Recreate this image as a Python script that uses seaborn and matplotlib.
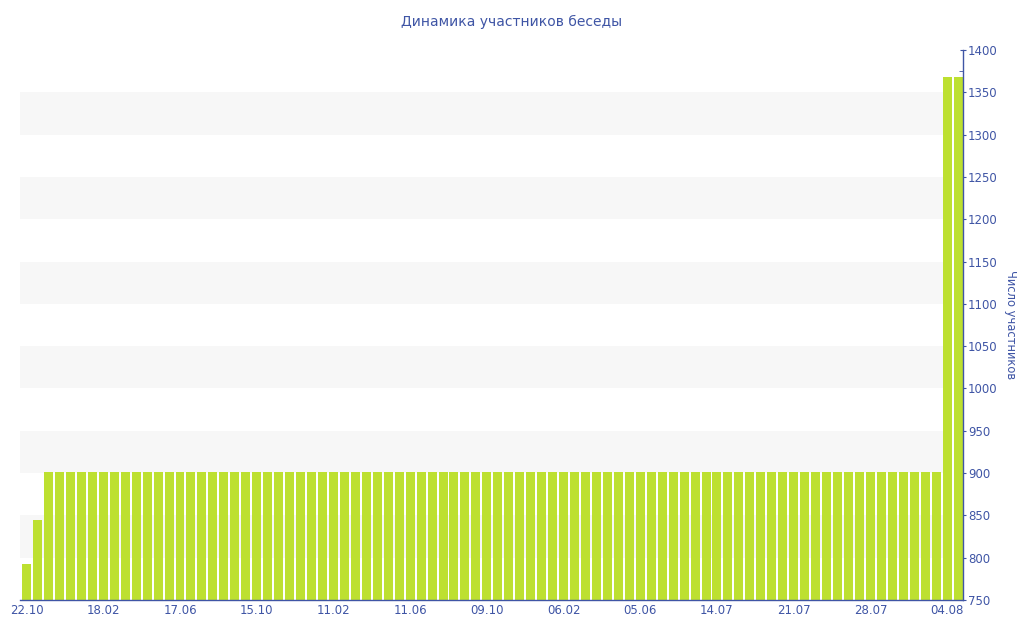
import matplotlib
matplotlib.use("Agg")
import matplotlib.pyplot as plt
import seaborn as sns
import pandas as pd
from matplotlib.ticker import MultipleLocator

# Data: one bar per snapshot
members = [793, 844] + [901] * 82 + [1368, 1368]
tick_labels = ["22.10", "18.02", "17.06", "15.10", "11.02", "11.06", "09.10",
               "06.02", "05.06", "14.07", "21.07", "28.07", "04.08"]
tick_step = 7

df = pd.DataFrame({"idx": range(len(members)), "members": members})

blue = "#3f55a5"
sns.set_style("white")
plt.rcParams['font.family'] = ['DejaVu Sans']

fig = plt.figure(figsize=(10.24, 6.4), dpi=100)
ax = fig.add_axes([20 / 1024, 40 / 640, 943 / 1024, 550 / 640])

# alternating light bands (they stop where the last two tall bars start)
for lo in range(800, 1400, 100):
    ax.axhspan(lo, lo + 50, xmin=0, xmax=0.979, color="#f7f7f7", zorder=0, lw=0)

sns.barplot(data=df, x="idx", y="members", color="#bde030", saturation=1,
            width=0.82, linewidth=0, ax=ax, zorder=2)

ax.set_ylim(750, 1400)
ax.set_xlim(-0.6, len(members) - 0.55)
ax.set_xticks(range(0, len(members), tick_step))
ax.set_xticklabels(tick_labels)

ax.yaxis.tick_right()
ax.yaxis.set_label_position("right")
ax.yaxis.set_major_locator(MultipleLocator(50))
ax.yaxis.set_minor_locator(MultipleLocator(25))
ax.set_ylabel("Число участников", rotation=270, color=blue, fontsize=8.3, labelpad=14)
ax.set_xlabel("")

for side in ["top", "left"]:
    ax.spines[side].set_visible(False)
for side in ["right", "bottom"]:
    ax.spines[side].set_color(blue)
    ax.spines[side].set_linewidth(1)

ax.tick_params(axis="y", which="major", colors=blue, labelsize=8.5, length=5,
               direction="inout", right=True, left=False, pad=1)
ax.tick_params(axis="y", which="minor", colors=blue, length=3, direction="in",
               right=True, left=False)
ax.tick_params(axis="x", colors=blue, labelsize=8.5, length=3, direction="in",
               bottom=True, pad=3)

fig.text(0.5, 1 - 22 / 640, "Динамика участников беседы", ha="center", va="center",
         color=blue, fontsize=10)

fig.savefig("out.png", dpi=100)
